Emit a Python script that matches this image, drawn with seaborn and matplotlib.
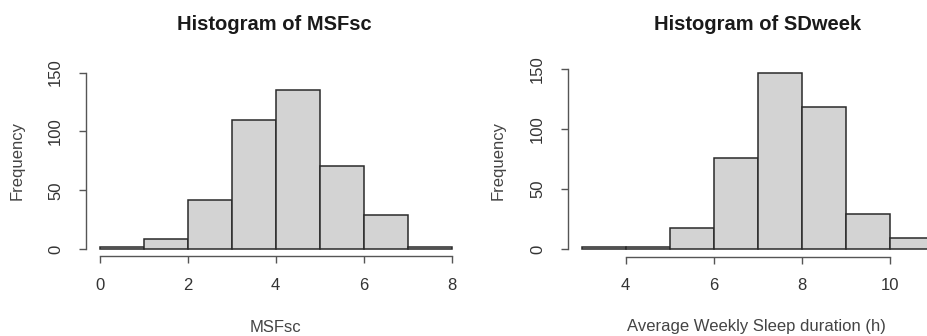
import numpy as np
import pandas as pd
import matplotlib
matplotlib.use("Agg")
import matplotlib.pyplot as plt
import seaborn as sns

# ---- data (bin edges and counts) ----
msf_edges = [0, 1, 2, 3, 4, 5, 6, 7, 8]
msf_counts = [2, 9, 42, 110, 135, 71, 29, 2]
sd_edges = [3, 4, 5, 6, 7, 8, 9, 10, 11]
sd_counts = [2, 2, 18, 76, 147, 118, 29, 9]
msf_xticks = [0, 2, 4, 6, 8]
sd_xticks = [4, 6, 8, 10]
yticks = [0, 50, 100, 150]

titles = ["Histogram of MSFsc", "Histogram of SDweek"]
xlabels = ["MSFsc", "Average Weekly Sleep duration (h)"]
ylabel = "Frequency"

sns.set_theme(style="ticks")
plt.rcParams["font.family"] = ["Liberation Sans", "DejaVu Sans"]

W, H = 927, 336
fig = plt.figure(figsize=(W / 100, H / 100), dpi=100)


def axes_px(x0, x1, ytop, ybot):
    return fig.add_axes([x0 / W, 1 - ybot / H, (x1 - x0) / W, (ybot - ytop) / H])


# pixel boxes of the two plot regions (R usr range incl. 4% padding)
ax1 = axes_px(85.5, 465.7, 65.5, 256.4)
ax2 = axes_px(567.6, 948.2, 61.8, 256.5)

panels = [
    (ax1, msf_edges, msf_counts, msf_xticks, 275.8, 274.5),
    (ax2, sd_edges, sd_counts, sd_xticks, 756.0, 757.5),
]

for i, (ax, edges, counts, xt, xlab_x, title_x) in enumerate(panels):
    centers = [(a + b) / 2 for a, b in zip(edges[:-1], edges[1:])]
    df = pd.DataFrame({"x": centers, "w": counts})
    sns.histplot(data=df, x="x", weights="w", bins=edges, ax=ax,
                 color="#d3d3d3", edgecolor="#2a2a2a", linewidth=1.1,
                 alpha=1.0)
    lo, hi = edges[0], edges[-1]
    pad = 0.04 * (hi - lo)
    ax.set_xlim(lo - pad, hi + pad)
    ax.set_ylim(-6, 156)
    ax.set_facecolor("none")
    for s in ["top", "right"]:
        ax.spines[s].set_visible(False)
    ax.spines["left"].set_bounds(0, 150)
    ax.spines["bottom"].set_bounds(xt[0], xt[-1])
    for s in ["left", "bottom"]:
        ax.spines[s].set_color("#555555")
        ax.spines[s].set_linewidth(1.0)
    ax.set_xticks(xt)
    ax.set_yticks(yticks)
    ax.tick_params(axis="both", direction="out", length=5.2, width=1.0,
                   color="#555555", labelcolor="#333333", labelsize=12)
    ax.tick_params(axis="x", pad=10.5)
    ax.tick_params(axis="y", pad=11, labelrotation=90)
    for lab in ax.get_yticklabels():
        lab.set_va("center")
    ax.set_xlabel(xlabels[i], fontsize=12, color="#444444", va="center")
    ax.xaxis.set_label_coords(xlab_x / W, 1 - 327 / H, transform=fig.transFigure)
    ax.set_ylabel(ylabel, fontsize=12, color="#444444", va="center")
    ylab_x = 17 if i == 0 else 498
    ax.yaxis.set_label_coords(ylab_x / W, 1 - 160 / H, transform=fig.transFigure)
    fig.text(title_x / W, 1 - 25 / H, titles[i], ha="center", va="center",
             fontsize=14.5, fontweight="bold", color="#1a1a1a")
    ax.grid(False)

fig.savefig("out.png", dpi=100)
